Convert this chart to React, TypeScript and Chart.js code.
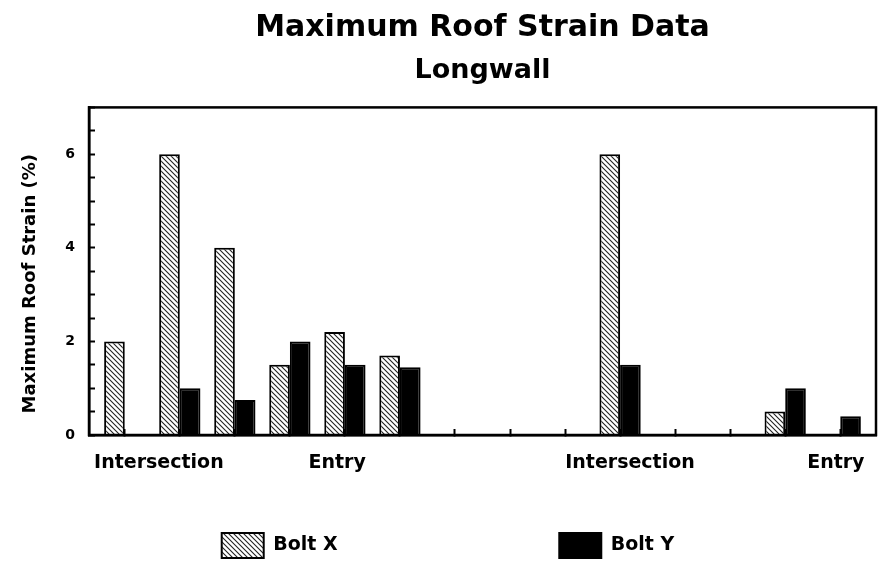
import React, { useEffect, useRef } from "react";
import { Chart, registerables } from "chart.js";

Chart.register(...registerables);

const categories = [0, 1, 2, 3, 4, 5, 6, 7, 8, 9, 10, 11, 12, 13];
const boltX = [2, 6, 4, 1.5, 2.2, 1.7, null, null, null, 6, null, null, 0.5, null];
const boltY = [null, 1, 0.75, 2, 1.5, 1.45, null, null, null, 1.5, null, null, 1, 0.4];
const seriesNames = ["Bolt X", "Bolt Y"];
const xLabelPositions = [0.62, 3.86, 9.18, 12.92];
const xLabels = ["Intersection", "Entry", "Intersection", "Entry"];
const yTickLabels = [0, 2, 4, 6];

const FONT = '"DejaVu Sans", Verdana, sans-serif';

function makeHatch(ctx: CanvasRenderingContext2D) {
  const s = 5;
  const c = document.createElement("canvas");
  c.width = s;
  c.height = s;
  const g = c.getContext("2d")!;
  g.fillStyle = "#fff";
  g.fillRect(0, 0, s, s);
  g.strokeStyle = "#222";
  g.lineWidth = 1.1;
  g.beginPath();
  g.moveTo(0, 0);
  g.lineTo(s, s);
  g.moveTo(-1, s - 1);
  g.lineTo(1, s + 1);
  g.moveTo(s - 1, -1);
  g.lineTo(s + 1, 1);
  g.stroke();
  return ctx.createPattern(c, "repeat")!;
}

const framePlugin = {
  id: "frame",
  afterDraw(chart: any) {
    const { ctx, chartArea } = chart;
    ctx.save();
    ctx.strokeStyle = "#000";
    ctx.lineWidth = 2.5;
    ctx.strokeRect(chartArea.left, chartArea.top, chartArea.right - chartArea.left, chartArea.bottom - chartArea.top);
    ctx.restore();
  },
};

export default function App() {
  const ref = useRef<HTMLCanvasElement | null>(null);

  useEffect(() => {
    const canvas = ref.current!;
    const ctx = canvas.getContext("2d")!;
    const hatch = makeHatch(ctx);

    const chart = new Chart(canvas, {
      type: "bar",
      data: {
        datasets: [
          {
            label: seriesNames[0],
            data: categories.map((c, i) => ({ x: c, y: boltX[i] })) as any,
            backgroundColor: hatch as any,
            borderColor: "#000",
            borderWidth: 2,
            categoryPercentage: 0.75,
            barPercentage: 1,
          },
          {
            label: seriesNames[1],
            data: categories.map((c, i) => ({ x: c, y: boltY[i] })) as any,
            backgroundColor: "#000",
            borderColor: "#000",
            borderWidth: 2,
            categoryPercentage: 0.75,
            barPercentage: 1,
          },
        ],
      },
      options: {
        responsive: false,
        animation: false,
        layout: { padding: { left: 20, right: 6, top: 0, bottom: 0 } },
        plugins: {
          title: {
            display: true,
            fullSize: false,
            text: "Maximum Roof Strain Data",
            color: "#000",
            font: { family: FONT, size: 30, weight: "bold" },
            padding: { top: 10, bottom: 0 },
          },
          subtitle: {
            display: true,
            fullSize: false,
            text: "Longwall",
            color: "#000",
            font: { family: FONT, size: 27, weight: "bold" },
            padding: { top: 9, bottom: 20 },
          },
          legend: {
            display: true,
            position: "bottom",
            labels: {
              boxWidth: 42,
              boxHeight: 25,
              padding: 10,
              color: "#000",
              font: { family: FONT, size: 19, weight: "bold" },
              generateLabels: (ch: any) => {
                const items = Chart.defaults.plugins.legend.labels.generateLabels(ch);
                items[0].text = items[0].text + " ".repeat(32);
                return items;
              },
            },
          },
          tooltip: { enabled: false },
        },
        scales: {
          x: {
            type: "linear",
            position: "bottom",
            offset: false,
            min: -0.65,
            max: 13.65,
            weight: 0,
            afterBuildTicks: (s: any) => {
              s.ticks = categories.map((v) => ({ value: v }));
            },
            afterFit: (s: any) => {
              s.height = 0;
            },
            ticks: { display: false },
            grid: { offset: false, drawOnChartArea: false, drawTicks: true, tickLength: -6, tickColor: "#000", tickWidth: 2 },
            border: { display: true, color: "#000", width: 2.5 },
          },
          x2: {
            type: "linear",
            position: "bottom",
            offset: false,
            min: -0.65,
            max: 13.65,
            weight: 1,
            afterBuildTicks: (s: any) => {
              s.ticks = xLabelPositions.map((v) => ({ value: v }));
            },
            afterFit: (s: any) => {
              s.height = 88;
            },
            ticks: {
              autoSkip: false,
              maxRotation: 0,
              padding: 9,
              color: "#000",
              font: { family: FONT, size: 19, weight: "bold" },
              callback: (v: any) => {
                const i = xLabelPositions.indexOf(v);
                return i >= 0 ? xLabels[i] : "";
              },
            },
            grid: { display: false },
            border: { display: false },
          },
          y: {
            min: 0,
            max: 7,
            afterFit: (s: any) => {
              s.width = 69;
            },
            ticks: {
              stepSize: 0.5,
              autoSkip: false,
              padding: 20,
              color: "#000",
              font: { family: FONT, size: 14, weight: "bold" },
              callback: (v: any) => (yTickLabels.includes(v) ? String(v) : ""),
            },
            grid: { drawOnChartArea: false, drawTicks: true, tickLength: -6, tickColor: "#000", tickWidth: 2 },
            border: { display: true, color: "#000", width: 2.5 },
            title: {
              display: true,
              text: "Maximum Roof Strain (%)    ",
              color: "#000",
              font: { family: FONT, size: 18, weight: "bold" },
              padding: { top: 0, bottom: 0 },
            },
          },
        },
      },
      plugins: [framePlugin],
    });

    return () => chart.destroy();
  }, []);

  return (
    <div style={{ position: "absolute", left: 0, top: 0, width: 882, height: 568, background: "#fff" }}>
      <canvas ref={ref} width={882} height={568} />
    </div>
  );
}
